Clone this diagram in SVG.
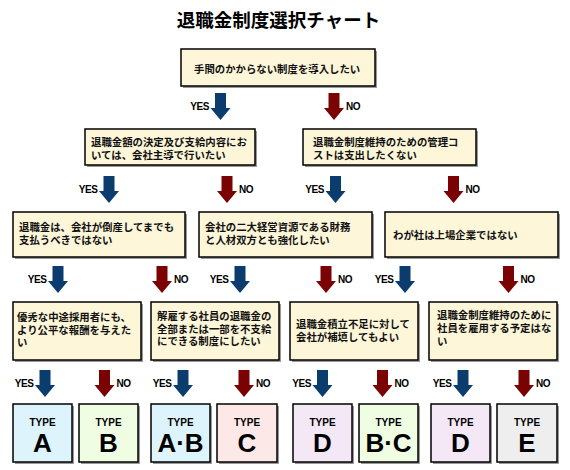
<svg xmlns="http://www.w3.org/2000/svg" width="570" height="470" viewBox="0 0 570 470">
<style>
.bg{fill:#ffffff}
.title{font-family:"Noto Sans CJK JP","Noto Sans CJK SC",sans-serif;font-weight:bold;font-size:18.5px;fill:#000}
.q rect.box{fill:#FDF6D8;stroke:#000;stroke-width:1.5}
rect.sh{fill:#9a9a9a}
.qt{font-family:"Noto Sans CJK JP","Noto Sans CJK SC",sans-serif;font-weight:bold;font-size:10.4px;fill:#111}
.lbl{font-family:"Liberation Sans",Arial,sans-serif;font-weight:bold;font-size:10px;fill:#000;letter-spacing:-0.4px}
.yes{fill:#0B3C6E}
.no{fill:#7A0202}
.t rect.box{stroke:#000;stroke-width:1.5}
.tt{font-family:"Liberation Sans",Arial,sans-serif;font-weight:bold;font-size:10px;fill:#000;text-anchor:middle}
.tl{font-family:"Liberation Sans",Arial,sans-serif;font-weight:bold;font-size:26px;fill:#000;text-anchor:middle}
.ta{fill:#DDF4FD}.tb{fill:#EFFDE3}.tc{fill:#FDE8E8}.td{fill:#F5E8F6}.te{fill:#EEEEEE}
</style>
<defs>
<path id="arr" d="M-5.5,0 H5.5 V15 H10 L0,27 L-10,15 H-5.5 Z"/>
</defs>
<rect class="bg" x="0" y="0" width="570" height="470"/>
<text class="title" x="278.5" y="27" text-anchor="middle">退職金制度選択チャート</text>

<g id="q1" class="q"><rect class="sh" x="183" y="51" width="194" height="37"/><rect class="box" x="181" y="49" width="194" height="37"/><text class="qt" x="194" y="73">手間のかからない制度を導入したい</text></g>

<g id="q2" class="q"><rect class="sh" x="87" y="131" width="170" height="36"/><rect class="box" x="85" y="129" width="170" height="36"/><text class="qt" x="91" y="146">退職金額の決定及び支給内容にお<tspan x="91" dy="12.5">いては、会社主導で行いたい</tspan></text></g>

<g id="q3" class="q"><rect class="sh" x="305" y="131" width="173" height="36"/><rect class="box" x="303" y="129" width="173" height="36"/><text class="qt" x="313" y="146">退職金制度維持のための管理コ<tspan x="313" dy="12.5">ストは支出したくない</tspan></text></g>

<g id="q4" class="q"><rect class="sh" x="15" y="214" width="172" height="45"/><rect class="box" x="13" y="212" width="172" height="45"/><text class="qt" x="19" y="231">退職金は、会社が倒産してまでも<tspan x="19" dy="12.5">支払うべきではない</tspan></text></g>

<g id="q5" class="q"><rect class="sh" x="201" y="214" width="173" height="45"/><rect class="box" x="199" y="212" width="173" height="45"/><text class="qt" x="205" y="231">会社の二大経営資源である財務<tspan x="205" dy="12.5">と人材双方とも強化したい</tspan></text></g>

<g id="q6" class="q"><rect class="sh" x="387" y="214" width="173" height="45"/><rect class="box" x="385" y="212" width="173" height="45"/><text class="qt" x="393" y="239">わが社は上場企業ではない</text></g>

<g id="q7" class="q"><rect class="sh" x="15" y="304" width="128" height="58"/><rect class="box" x="13" y="302" width="128" height="58"/><text class="qt" x="17" y="321">優秀な中途採用者にも、<tspan x="17" dy="12.5">より公平な報酬を与えた</tspan><tspan x="17" dy="12.5">い</tspan></text></g>

<g id="q8" class="q"><rect class="sh" x="153" y="304" width="128" height="58"/><rect class="box" x="151" y="302" width="128" height="58"/><text class="qt" x="157" y="320">解雇する社員の退職金の<tspan x="157" dy="12.5">全部または一部を不支給</tspan><tspan x="157" dy="12.5">にできる制度にしたい</tspan></text></g>

<g id="q9" class="q"><rect class="sh" x="292" y="304" width="128" height="58"/><rect class="box" x="290" y="302" width="128" height="58"/><text class="qt" x="296" y="328">退職金積立不足に対して<tspan x="296" dy="12.5">会社が補填してもよい</tspan></text></g>

<g id="q10" class="q"><rect class="sh" x="431" y="304" width="128" height="58"/><rect class="box" x="429" y="302" width="128" height="58"/><text class="qt" x="437" y="319">退職金制度維持のために<tspan x="437" dy="13">社員を雇用する予定はな</tspan><tspan x="437" dy="13">い</tspan></text></g>

<g id="tA" class="t"><rect class="sh" x="15" y="406" width="59" height="58"/><rect class="box ta" x="13" y="404" width="59" height="58"/><text class="tt" x="42.5" y="425.5">TYPE</text><text class="tl" x="42.5" y="452">A</text></g>
<g id="tB" class="t"><rect class="sh" x="81" y="406" width="59" height="58"/><rect class="box tb" x="79" y="404" width="59" height="58"/><text class="tt" x="108.5" y="425.5">TYPE</text><text class="tl" x="108.5" y="452">B</text></g>
<g id="tAB" class="t"><rect class="sh" x="153" y="406" width="59" height="58"/><rect class="box ta" x="151" y="404" width="59" height="58"/><text class="tt" x="180.5" y="425.5">TYPE</text><text class="tl" x="180.5" y="452">A·B</text></g>
<g id="tC" class="t"><rect class="sh" x="219" y="406" width="60" height="58"/><rect class="box tc" x="217" y="404" width="60" height="58"/><text class="tt" x="247" y="425.5">TYPE</text><text class="tl" x="247" y="452">C</text></g>
<g id="tD1" class="t"><rect class="sh" x="295" y="406" width="59" height="58"/><rect class="box td" x="293" y="404" width="59" height="58"/><text class="tt" x="322.5" y="425.5">TYPE</text><text class="tl" x="322.5" y="452">D</text></g>
<g id="tBC" class="t"><rect class="sh" x="361" y="406" width="59" height="58"/><rect class="box tb" x="359" y="404" width="59" height="58"/><text class="tt" x="388.5" y="425.5">TYPE</text><text class="tl" x="388.5" y="452">B·C</text></g>
<g id="tD2" class="t"><rect class="sh" x="433" y="406" width="59" height="58"/><rect class="box td" x="431" y="404" width="59" height="58"/><text class="tt" x="460.5" y="425.5">TYPE</text><text class="tl" x="460.5" y="452">D</text></g>
<g id="tE" class="t"><rect class="sh" x="499" y="406" width="60" height="58"/><rect class="box te" x="497" y="404" width="60" height="58"/><text class="tt" x="527" y="425.5">TYPE</text><text class="tl" x="527" y="452">E</text></g>

<g id="connectors">
<use href="#arr" x="220.5" y="93" class="yes"/><text class="lbl" x="209" y="110" text-anchor="end">YES</text>
<use href="#arr" x="334" y="93" class="no"/><text class="lbl" x="346" y="110">NO</text>

<use href="#arr" x="109" y="176" class="yes"/><text class="lbl" x="97.5" y="193" text-anchor="end">YES</text>
<use href="#arr" x="227" y="176" class="no"/><text class="lbl" x="239" y="193">NO</text>
<use href="#arr" x="335.5" y="176" class="yes"/><text class="lbl" x="324" y="193" text-anchor="end">YES</text>
<use href="#arr" x="453.5" y="176" class="no"/><text class="lbl" x="465.5" y="193">NO</text>

<use href="#arr" x="58" y="266" class="yes"/><text class="lbl" x="46.5" y="283" text-anchor="end">YES</text>
<use href="#arr" x="162" y="266" class="no"/><text class="lbl" x="174" y="283">NO</text>
<use href="#arr" x="240" y="266" class="yes"/><text class="lbl" x="228.5" y="283" text-anchor="end">YES</text>
<use href="#arr" x="326" y="266" class="no"/><text class="lbl" x="338" y="283">NO</text>
<use href="#arr" x="405" y="266" class="yes"/><text class="lbl" x="393.5" y="283" text-anchor="end">YES</text>
<use href="#arr" x="508.5" y="266" class="no"/><text class="lbl" x="520.5" y="283">NO</text>

<use href="#arr" x="45" y="370" class="yes"/><text class="lbl" x="33.5" y="387" text-anchor="end">YES</text>
<use href="#arr" x="104.5" y="370" class="no"/><text class="lbl" x="116.5" y="387">NO</text>
<use href="#arr" x="183" y="370" class="yes"/><text class="lbl" x="171.5" y="387" text-anchor="end">YES</text>
<use href="#arr" x="244" y="370" class="no"/><text class="lbl" x="256" y="387">NO</text>
<use href="#arr" x="322.5" y="370" class="yes"/><text class="lbl" x="311" y="387" text-anchor="end">YES</text>
<use href="#arr" x="382.5" y="370" class="no"/><text class="lbl" x="394.5" y="387">NO</text>
<use href="#arr" x="463" y="370" class="yes"/><text class="lbl" x="451.5" y="387" text-anchor="end">YES</text>
<use href="#arr" x="524" y="370" class="no"/><text class="lbl" x="536" y="387">NO</text>
</g>
</svg>
